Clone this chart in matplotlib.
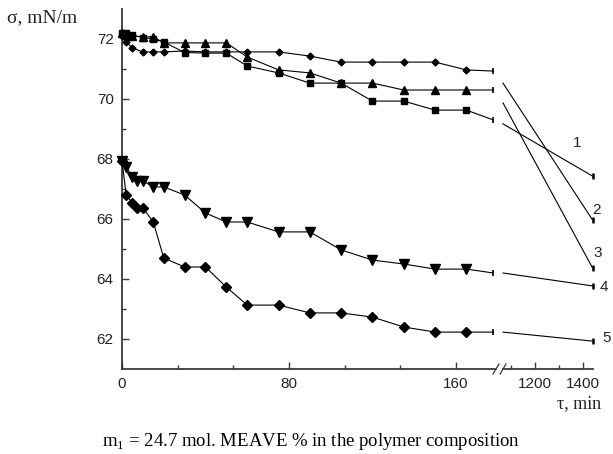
import matplotlib.pyplot as plt
from matplotlib.lines import Line2D

plt.rcParams["font.family"] = ["Liberation Sans", "DejaVu Sans"]
plt.rcParams["mathtext.fontset"] = "custom"
plt.rcParams["mathtext.rm"] = "Liberation Serif"

# tiempos de medicion (min)
t_top = [0, 2, 5, 10, 15, 20, 30, 40, 50, 60, 75, 90, 105, 120, 135, 150, 165]
t_low = [0, 2, 5, 7, 10, 15, 20, 30, 40, 50, 60, 75, 90, 105, 120, 135, 150, 165]

# tension superficial (mN/m)
sigma_1 = [72.2, 72.2, 72.13, 72.05, 72.0, 71.9, 71.55, 71.53, 71.53, 71.1,
           70.87, 70.53, 70.53, 69.93, 69.93, 69.63, 69.63]
sigma_2 = [72.1, 71.9, 71.7, 71.57, 71.57, 71.57, 71.6, 71.57, 71.57, 71.57,
           71.57, 71.43, 71.23, 71.23, 71.23, 71.23, 70.97]
sigma_3 = [72.2, 72.15, 72.1, 72.07, 72.07, 71.87, 71.87, 71.87, 71.87, 71.4,
           70.97, 70.87, 70.53, 70.53, 70.3, 70.3, 70.3]
sigma_4 = [67.95, 67.75, 67.4, 67.27, 67.27, 67.07, 67.07, 66.8, 66.2, 65.9,
           65.9, 65.57, 65.57, 64.97, 64.63, 64.5, 64.33, 64.33]
sigma_5 = [67.95, 66.8, 66.53, 66.37, 66.37, 65.9, 64.7, 64.4, 64.4, 63.73,
           63.13, 63.13, 62.87, 62.87, 62.73, 62.4, 62.23, 62.23]

# tramo cortado del eje (antes y despues del corte) y punto final
t_break_left = 178
t_break_right = 1068
t_end = 1440
sigma_break_left = [69.3, 70.93, 70.3, 64.2, 62.23]
sigma_break_right = [69.17, 70.53, 69.87, 64.2, 62.23]
sigma_end = [67.43, 65.97, 64.37, 63.77, 61.93]
curve_labels = ["1", "2", "3", "4", "5"]

series = [
    (t_top, sigma_1, "s", 4.5),
    (t_top, sigma_2, "D", 3.5),
    (t_top, sigma_3, "^", 6.0),
    (t_low, sigma_4, "v", 6.5),
    (t_low, sigma_5, "D", 5.5),
]
label_offsets = [(-11, 24), (3, 7), (4, 11), (8, -1), (10, 2)]

W, H = 613, 454
fig = plt.figure(figsize=(W / 100, H / 100), dpi=100)
ax1 = fig.add_axes([122 / W, 1 - 369 / H, (496 - 122) / W, (369 - 9) / H])
ax2 = fig.add_axes([503 / W, 1 - 369 / H, (593 - 503) / W, (369 - 9) / H])

axis_color = "#3a3a3a"
text_color = "#22222e"

for i, (t, s, m, ms) in enumerate(series):
    ax1.plot(t + [t_break_left], s + [sigma_break_left[i]], color="black", lw=0.8,
             marker=m, ms=ms, markevery=list(range(len(t))), clip_on=False, zorder=3)
    ax1.plot([t_break_left], [sigma_break_left[i]], color="black", marker="|",
             ms=4, mew=1.2, clip_on=False)
    ax2.plot([t_break_right, t_end], [sigma_break_right[i], sigma_end[i]],
             color="black", lw=0.8, clip_on=False)
    ax2.plot([t_end], [sigma_end[i]], color="black", marker="|", ms=4, mew=1.8,
             clip_on=False)
    ax2.annotate(curve_labels[i], (t_end, sigma_end[i]), xytext=label_offsets[i],
                 textcoords="offset points", ha="center", va="center",
                 fontsize=11, color=text_color, annotation_clip=False)

ax1.set_xlim(0, 179.2)
ax2.set_xlim(1068, 1442)
for ax in (ax1, ax2):
    ax.set_ylim(61, 73)
    ax.spines["top"].set_visible(False)
    ax.spines["right"].set_visible(False)
    ax.spines["bottom"].set_color(axis_color)
    ax.spines["bottom"].set_linewidth(1.3)
    ax.tick_params(direction="in", which="major", length=5, width=1,
                   color=axis_color, labelsize=11, labelcolor=text_color, pad=6)
    ax.tick_params(direction="in", which="minor", length=3, width=1,
                   color=axis_color)
    ax.patch.set_alpha(0)

ax1.spines["left"].set_color(axis_color)
ax1.spines["left"].set_linewidth(1.3)
ax1.set_xticks([0, 80, 160])
ax1.set_xticks([80 / 3, 160 / 3, 320 / 3, 400 / 3], minor=True)
ax1.set_yticks([62, 64, 66, 68, 70, 72])
ax1.set_yticks([63, 65, 67, 69, 71], minor=True)

ax2.spines["left"].set_visible(False)
ax2.set_yticks([])
ax2.set_yticks([], minor=True)
ax2.set_xticks([1200, 1400])
ax2.set_xticks([1100, 1300], minor=True)

# marcas del corte del eje
for x0 in (493, 500):
    fig.add_artist(Line2D([x0 / W, (x0 + 6) / W], [1 - 374 / H, 1 - 364 / H],
                          color=axis_color, lw=0.9))

fig.text(7 / W, 1 - 18 / H, "σ, mN/m", family="Liberation Serif", fontsize=14,
         color=text_color, ha="left", va="center")
fig.text(557 / W, 1 - 404 / H, "τ, min", family="Liberation Serif", fontsize=13,
         color=text_color, ha="left", va="center")
fig.text(102 / W, 1 - 442 / H,
         "m$_1$ = 24.7 mol. MEAVE % in the polymer composition",
         family="Liberation Serif", fontsize=13.5, color="black",
         ha="left", va="center")

fig.savefig("out.png", dpi=100)
